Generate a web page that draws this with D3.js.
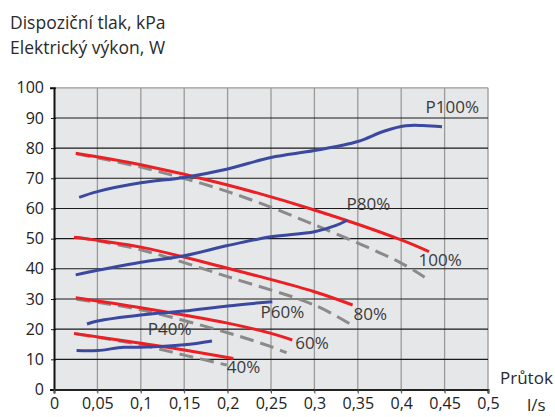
<!DOCTYPE html>
<html><head><meta charset="utf-8">
<script src="https://cdn.jsdelivr.net/npm/d3@7"></script>
<style>body{margin:0;background:#fff;} text{font-family:"Open Sans",sans-serif;}</style>
</head><body>
<svg id="c" width="555" height="417"></svg>
<script>
const xTicks = [0,0.05,0.1,0.15,0.2,0.25,0.3,0.35,0.4,0.45,0.5];
const xTickLabels = ["0","0,05","0,1","0,15","0,2","0,25","0,3","0,35","0,4","0,45","0,5"];
const yTicks = [0,10,20,30,40,50,60,70,80,90,100];

// Power curves (blue), W
const p100 = [[0.029,63.7],[0.05,65.6],[0.1,68.5],[0.15,70.3],[0.2,73.1],[0.25,76.9],[0.3,79.2],[0.35,82.2],[0.38,85.6],[0.405,87.4],[0.425,87.5],[0.447,87.1]];
const p80  = [[0.025,38],[0.05,39.5],[0.1,42.2],[0.15,44.3],[0.2,47.7],[0.25,50.6],[0.3,52.3],[0.325,54.4],[0.338,56.1]];
const p60  = [[0.038,21.7],[0.05,22.7],[0.1,24.7],[0.15,26],[0.2,27.7],[0.2515,29.1]];
const p40  = [[0.026,12.9],[0.05,12.9],[0.08,14],[0.1,14],[0.15,14.8],[0.182,16.1]];
// Available pressure (red), kPa
const r100 = [[0.025,78.3],[0.1,74.5],[0.2,67.8],[0.3,59.5],[0.4,49.6],[0.432,45.7]];
const r80  = [[0.023,50.5],[0.1,47.2],[0.2,40.2],[0.3,32.4],[0.344,28]];
const r60  = [[0.025,30.4],[0.1,27.1],[0.2,22],[0.25,18.6],[0.2745,16.4]];
const r40  = [[0.023,18.6],[0.1,15.3],[0.15,13.1],[0.2066,10.3]];
// Gray dashed curves, kPa
const g100 = [[0.026,78.1],[0.1,73.7],[0.2,65.6],[0.3,54.6],[0.4,41.9],[0.427,37.2]];
const g80  = [[0.026,50.5],[0.1,46.3],[0.2,37.4],[0.3,28],[0.343,21.4]];
const g60  = [[0.026,29.9],[0.1,26.4],[0.2,18.8],[0.25,14.2],[0.268,12.2]];
const g40  = [[0.026,18.4],[0.1,14.8],[0.15,11.4],[0.199,8.1]];

const labels = [
  {t:"P100%", x:0.428, y:91.5},
  {t:"P80%", x:0.337, y:59.4},
  {t:"100%", x:0.42, y:40.8},
  {t:"80%", x:0.345, y:23.1},
  {t:"P60%", x:0.238, y:23.8},
  {t:"60%", x:0.278, y:13.5},
  {t:"P40%", x:0.108, y:17.9},
  {t:"40%", x:0.199, y:5.4}
];

const svg = d3.select("#c");
const x = d3.scaleLinear().domain([0,0.5]).range([54,488]);
const y = d3.scaleLinear().domain([0,100]).range([389.5,87.8]);

svg.append("rect").attr("x",x(0)).attr("y",y(100)).attr("width",x(0.5)-x(0)).attr("height",y(0)-y(100)).attr("fill","#e6e7e9");

// vertical grid
svg.append("g").selectAll("line").data(xTicks.slice(1)).join("line")
  .attr("x1",d=>x(d)).attr("x2",d=>x(d)).attr("y1",y(100)).attr("y2",y(0)+3)
  .attr("stroke","#9a9a9a").attr("stroke-width",1.3);
// horizontal grid
svg.append("g").selectAll("line").data(yTicks.slice(1,-1)).join("line")
  .attr("x1",x(0)).attr("x2",x(0.5)).attr("y1",d=>y(d)).attr("y2",d=>y(d))
  .attr("stroke","#1a1a1a").attr("stroke-width",1.1);
svg.append("line").attr("x1",x(0)).attr("x2",x(0.5)).attr("y1",y(100)).attr("y2",y(100)).attr("stroke","#9a9a9a").attr("stroke-width",1.3);

// axes
const yAxis = d3.axisLeft(y).tickValues(yTicks).tickSize(4).tickFormat(d3.format("d"));
const gy = svg.append("g").attr("transform",`translate(${x(0)},0)`).call(yAxis);
gy.select(".domain").attr("stroke","#111").attr("stroke-width",2);
gy.selectAll(".tick line").attr("stroke","#111").attr("x2",2).attr("x1",-3);
gy.selectAll("text").attr("font-size",16).attr("fill","#222").attr("x",-10).style("font-family","Open Sans");

const xAxis = d3.axisBottom(x).tickValues(xTicks).tickSize(4).tickFormat((d,i)=>xTickLabels[i]);
const gx = svg.append("g").attr("transform",`translate(0,${y(0)})`).call(xAxis);
gx.select(".domain").attr("stroke","#222").attr("stroke-width",2);
gx.selectAll(".tick line").attr("stroke","#555");
gx.selectAll("text").attr("font-size",16).attr("fill","#222").attr("y",8).style("font-family","Open Sans");

const line = d3.line().x(d=>x(d[0])).y(d=>y(d[1])).curve(d3.curveCatmullRom.alpha(0.5));
const dashedSeries = [g100,g80,g60,g40];
const redSeries = [r100,r80,r60,r40];
const blueSeries = [p100,p80,p60,p40];
svg.append("g").selectAll("path").data(dashedSeries).join("path").attr("d",line)
  .attr("fill","none").attr("stroke","#8a8a8a").attr("stroke-width",3).attr("stroke-dasharray","14,7");
svg.append("g").selectAll("path").data(redSeries).join("path").attr("d",line)
  .attr("fill","none").attr("stroke","#ec2024").attr("stroke-width",3);
svg.append("g").selectAll("path").data(blueSeries).join("path").attr("d",line)
  .attr("fill","none").attr("stroke","#3b48a0").attr("stroke-width",3);

svg.append("g").selectAll("text").data(labels).join("text")
  .attr("x",d=>x(d.x)).attr("y",d=>y(d.y)).text(d=>d.t)
  .attr("font-size",17).attr("fill","#3a3a3a");

svg.append("text").attr("x",10).attr("y",29).text("Dispoziční tlak, kPa").attr("font-size",17.5).attr("fill","#2a2a2a");
svg.append("text").attr("x",10).attr("y",54).text("Elektrický výkon, W").attr("font-size",17.5).attr("fill","#2a2a2a");
svg.append("text").attr("x",500).attr("y",384).text("Průtok").attr("font-size",17).attr("fill","#2a2a2a");
svg.append("text").attr("x",527).attr("y",411).text("l/s").attr("font-size",17).attr("fill","#2a2a2a");
</script>
</body></html>
